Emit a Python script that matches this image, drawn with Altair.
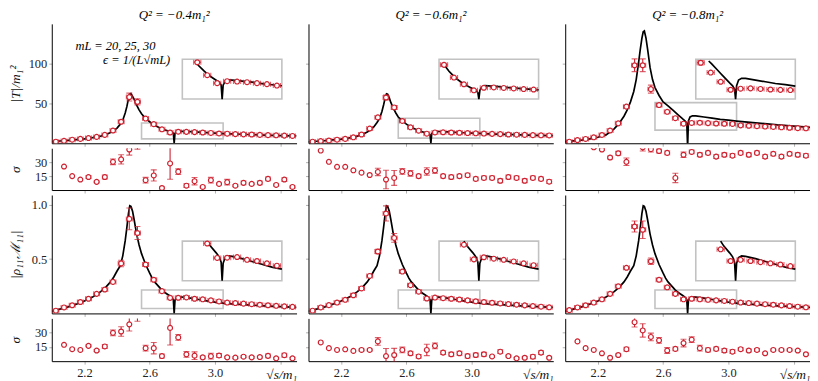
import altair as alt
import pandas as pd

FONT = "Liberation Serif"
RED = "#cf2230"
BOXC = "#c2c2c2"
TICKC = "#b0b0b0"

# lattice points (energy positions)
PX = [2.025, 2.075, 2.125, 2.175, 2.225, 2.275, 2.325, 2.375, 2.425, 2.475,
      2.525, 2.575, 2.625, 2.675, 2.725, 2.775, 2.825, 2.875, 2.925, 2.975,
      3.025, 3.075, 3.125, 3.175, 3.225, 3.275, 3.325, 3.375, 3.425, 3.475]
SX = PX[1:]

# |T|/m^2 points
T04 = [2, 3, 4.5, 5.5, 6.5, 8, 10.5, 16, 27, 58, 52, 31, 24, 17.5, 13.5, 14.5, 14.3, 14, 13.5, 13,
       12.3, 12, 11.5, 11.2, 11, 10.5, 10.2, 10, 9.6, 9.2]
T04_ERR = [0, 0, 0, 0, 0, 0, 0, 0, 1.5, 5, 4, 1, 0, 0, 0, 0, 0, 0, 0, 0, 0, 0, 0, 0, 0, 0, 0, 0, 0, 0]
T06 = [2, 2.8, 3.5, 4.5, 5.5, 7.5, 11, 18.5, 32.5, 57.5, 45, 28, 20, 15.8, 12, 13.6, 13.8, 13.5, 13.2, 12.8,
       12.5, 12.2, 11.8, 11.5, 11, 10.8, 10.5, 10.2, 10, 9.8]
T06_ERR = [0, 0, 0, 0, 0, 0, 0, 0, 1.5, 3, 2.5, 1, 0, 0, 0, 0, 0, 0, 0, 0, 0, 0, 0, 0, 0, 0, 0, 0, 0, 0]
T08 = [2, 4, 5.4, 7.5, 10.4, 16, 25, 46, 98, 98, 68, 48, 39.5, 31.5, 24.6, 25.5, 25.8, 25.3, 24.8, 24.5,
       24.3, 22.5, 22, 21.5, 21, 20.5, 20, 19.5, 19, 18.8]
T08_ERR = [0, 0, 0, 0, 0, 0, 0, 1.5, 8, 8, 5, 2, 0, 0, 0, 0, 0, 0, 0, 0, 0, 0, 0, 0, 0, 0, 0, 0, 0, 0]

# |rho M| points
R04 = [0.025, 0.055, 0.075, 0.105, 0.135, 0.18, 0.22, 0.29, 0.46, 0.87, 0.74, 0.45, 0.31, 0.205, 0.143,
       0.144, 0.147, 0.135, 0.13, 0.12, 0.11, 0.1, 0.095, 0.09, 0.085, 0.08, 0.075, 0.07, 0.065, 0.06]
R04_ERR = [0, 0, 0, 0, 0, 0, 0, 0, 0.03, 0.1, 0.06, 0.015, 0, 0, 0, 0, 0, 0, 0, 0, 0, 0, 0, 0, 0, 0, 0, 0, 0, 0]
R06 = [0.025, 0.055, 0.076, 0.1, 0.125, 0.167, 0.23, 0.345, 0.57, 0.92, 0.695, 0.385, 0.26, 0.2, 0.137,
       0.146, 0.14, 0.135, 0.128, 0.12, 0.112, 0.105, 0.098, 0.092, 0.086, 0.08, 0.074, 0.068, 0.062, 0.056]
R06_ERR = [0, 0, 0, 0, 0, 0, 0, 0, 0.02, 0.07, 0.04, 0.01, 0, 0, 0, 0, 0, 0, 0, 0, 0, 0, 0, 0, 0, 0, 0, 0, 0, 0]
R08 = [0.03, 0.055, 0.075, 0.1, 0.13, 0.18, 0.25, 0.42, 0.80, 0.77, 0.48, 0.31, 0.24, 0.18, 0.13,
       0.135, 0.13, 0.125, 0.12, 0.115, 0.108, 0.1, 0.095, 0.09, 0.085, 0.08, 0.074, 0.068, 0.062, 0.056]
R08_ERR = [0, 0, 0, 0, 0, 0, 0, 0, 0.05, 0.08, 0.03, 0.01, 0, 0, 0, 0, 0, 0, 0, 0, 0, 0, 0, 0, 0, 0, 0, 0, 0, 0]

# sigma rows
SA04 = [25.3, 15, 11.3, 14, 8.8, 14, 30.4, 33, 43.6, 52, 10.6, 15.7, 2.2, 28.6, 19.8, 4.7, 9.5, 3.3, 10.6, 6.6,
        8.5, 4.7, 7.7, 6.6, 7.7, 12, 5.5, 11.3, 3.3]
SA04_ERR = [0, 0, 0, 1.5, 1, 2, 3, 5, 6, 8, 3, 6, 1, 17, 3, 2, 4, 1, 3, 1, 3, 1, 2, 1, 2, 2, 1, 2, 1]
SA06 = [42.5, 30.4, 25, 25, 21.2, 18.7, 16.2, 19.5, 11.3, 13, 20, 18, 15, 20, 21, 15, 14, 15, 16, 12,
        13, 13, 10, 14, 13, 10, 13, 12, 9]
SA06_ERR = [0, 0, 0, 0, 0, 0, 0, 4, 10, 8, 3, 3, 2, 4, 3, 2, 2, 2, 2, 2, 2, 2, 2, 2, 2, 2, 2, 2, 2]
SA08 = [55, 50, 46, 43.6, 35, 39.6, 30.4, 52, 46, 44, 42, 40, 13, 38, 41, 38, 40, 36, 38, 37,
        40, 38, 40, 36, 39, 36, 39, 38, 37]
SA08_ERR = [0, 0, 1, 1, 1.5, 2, 4, 6, 4, 3, 2, 2, 5, 3, 2, 2, 2, 2, 2, 2, 2, 2, 2, 2, 2, 2, 2, 2, 2]
SB04 = [17.2, 12.6, 11.8, 16.1, 11.2, 15.5, 29.8, 31.2, 38.7, 50, 13.7, 13.7, 5.4, 35, 25, 7.2, 5.8, 4, 5.3, 6,
        4, 3.7, 4.7, 4, 4.3, 5.6, 3, 6.3, 3]
SB04_ERR = [0, 0, 0, 1, 1, 2, 3, 5, 7, 8, 3, 6, 2, 18, 3, 3, 4, 1.5, 3, 2, 1, 1, 1, 1, 1, 2, 1, 2, 1]
SB06 = [19.7, 13.7, 11.8, 12.5, 10.8, 11.8, 11.8, 20.8, 5.4, 6.5, 11.8, 8.3, 5, 11.8, 16.1, 9, 7.3, 8.3, 5.4, 6.5,
        7.3, 5, 10, 5.4, 3, 3.6, 4.7, 9, 3.6]
SB06_ERR = [0, 0, 0, 0, 0, 1, 1, 4, 8, 7, 3, 2, 2, 6, 3, 2, 2, 2, 2, 2, 2, 1, 2, 1, 1, 1, 2, 2, 1]
SB08 = [20.8, 13.7, 11.8, 8.3, 3.6, 6.5, 12.6, 41, 32.3, 25.5, 21.9, 11.2, 12.9, 19, 22.6, 13.7, 11.8, 12.9, 11.2, 10,
        12.6, 11.2, 11.8, 8.3, 11.8, 11.8, 11.8, 11.2, 7.3]
SB08_ERR = [0, 0, 0, 0, 0, 1, 2, 5, 7, 4, 3, 3, 2, 4, 3, 3, 2, 2, 2, 2, 1.5, 1.5, 1.5, 1, 1, 1, 1, 1, 1]

# theory curves
CX = [2.00, 2.05, 2.10, 2.15, 2.20, 2.25, 2.30, 2.33, 2.36, 2.38,
      2.40, 2.42, 2.435, 2.45, 2.46, 2.47, 2.478, 2.485, 2.495, 2.505,
      2.52, 2.535, 2.55, 2.575, 2.60, 2.615, 2.63, 2.66, 2.675, 2.69,
      2.72, 2.735, 2.745, 2.75, 2.755, 2.765, 2.78, 2.80, 2.85, 2.90,
      2.95, 3.00, 3.05, 3.10, 3.20, 3.30, 3.40, 3.50]
CR = [0.02, 0.04, 0.06, 0.085, 0.115, 0.15, 0.20, 0.24, 0.29, 0.335,
      0.39, 0.44, 0.53, 0.67, 0.79, 0.92, 0.99, 0.985, 0.94, 0.86,
      0.73, 0.63, 0.55, 0.45, 0.37, 0.325, 0.29, 0.24, 0.215, 0.195,
      0.165, 0.148, 0.125, 0.0, 0.12, 0.145, 0.152, 0.15, 0.14, 0.128,
      0.116, 0.104, 0.095, 0.088, 0.078, 0.07, 0.062, 0.055]
CT04 = [2, 2.8, 3.6, 4.5, 5.6, 7, 9, 10.8, 13.5, 16,
        19, 24, 29, 38, 46, 56, 62, 62.5, 59, 55,
        48, 42, 37, 31, 27, 24.7, 22.5, 19.5, 18.2, 17,
        15, 14, 12.5, 0, 12.5, 14.5, 15.2, 15, 14.5, 14,
        13.3, 12.7, 12.2, 11.8, 11, 10.3, 9.7, 9.2]
CT06 = [1.8, 2.5, 3.2, 4.2, 5.3, 6.8, 9, 11, 14, 17,
        20.5, 26, 31, 40, 48, 57, 62, 61.5, 57, 51,
        44, 38, 33, 28, 24, 22, 20, 17.2, 16, 14.8,
        13, 12.2, 10.5, 0, 12, 14, 14.9, 14.8, 14.3, 13.7,
        13.2, 12.7, 12.3, 11.9, 11.2, 10.6, 10, 9.6]
CT08 = [2, 3, 4, 5.5, 7.5, 10.5, 18, 25, 34, 42,
        52, 65, 80, 102, 118, 132, 140, 141, 132, 118,
        95, 80, 70, 60, 52, 49.5, 47, 41.5, 38.7, 36,
        30.5, 28, 25, -5, 28, 33, 34.5, 34.5, 33, 31.5,
        30, 29, 27.8, 26.8, 25, 23, 21.5, 20]

TITLES = ["Q² = −0.4m₁²", "Q² = −0.6m₁²", "Q² = −0.8m₁²"]
ANNOT_TEXT = ["mL = 20, 25, 30", "ϵ = 1/(L√mL)"]
ANNOT_X = [2.39, 2.52]
ANNOT_Y = [122, 105]

XDOM = [2.0, 3.5]
XT = [2.2, 2.6, 3.0, 3.4]
XE = 0.018

ZOOM_X = [2.55, 3.05]
BOX_X = [2.80, 3.41]
ZOOM_Y_T = [[5.5, 25.5], [6.5, 31.5], [16.5, 51.0]]
BOX_Y_T = [55.5, 105.5]
ZOOM_Y_R = [0.045, 0.215]
BOX_Y_R = [0.30, 0.665]

W = 246
HEIGHTS = [120, 42, 119, 43]


def xaxis(bottom):
    if bottom:
        return alt.Axis(values=XT, labelExpr="datum.value > 3.3 ? '' : format(datum.value, '.1f')",
                        tickSize=3, grid=False, title="√s/m₁", titleX=W, titleY=13,
                        titleAlign="right", titleBaseline="middle", titleFontStyle="italic",
                        titleFontSize=13.5, labelFontSize=12.5, labelPadding=2)
    return alt.Axis(values=XT, labels=False, tickSize=3, grid=False, title=None)


def yaxis(vals, fmt, title):
    if title is None:
        return alt.Axis(values=vals, labels=False, tickSize=3, grid=False, title=None)
    return alt.Axis(values=vals, format=fmt, tickSize=3, grid=False, title=title,
                    titleX=-36, titleBaseline="middle", titleFontStyle="italic",
                    labelFontSize=12.5, labelPadding=2)


def point_layers(df, calc, filt, X, Y, hbar, cap):
    base = alt.Chart(df).transform_calculate(**calc)
    if filt:
        base = base.transform_filter(filt)
    out = []
    if hbar:
        out.append(base.mark_rule(color=RED, strokeWidth=1.1, clip=True).encode(
            x=X("xl"), x2=alt.X2("xh"), y=Y("yy")))
        out.append(base.mark_tick(orient="vertical", size=cap, thickness=1.1, color=RED, clip=True).encode(
            x=X("xl"), y=Y("yy")))
        out.append(base.mark_tick(orient="vertical", size=cap, thickness=1.1, color=RED, clip=True).encode(
            x=X("xh"), y=Y("yy")))
    ve = base.transform_filter("datum.e > 0")
    out.append(ve.mark_rule(color=RED, strokeWidth=1.1, clip=True).encode(
        x=X("xx"), y=Y("yl"), y2=alt.Y2("yh")))
    out.append(ve.mark_tick(orient="horizontal", size=cap + 1, thickness=1.1, color=RED, clip=True).encode(
        x=X("xx"), y=Y("yl")))
    out.append(ve.mark_tick(orient="horizontal", size=cap + 1, thickness=1.1, color=RED, clip=True).encode(
        x=X("xx"), y=Y("yh")))
    out.append(base.mark_point(shape="circle", filled=True, fill="white", stroke=RED, strokeWidth=1.2,
                               size=24, opacity=1, clip=True).encode(x=X("xx"), y=Y("yy")))
    return out


def panel(px, vals, errs, ydom, yt, yfmt, ytitle, height, hbar, curve=None, zoom=None,
          title=None, bottom=False, annotate=False):
    xs = alt.Scale(domain=XDOM, nice=False, zero=False)
    ys = alt.Scale(domain=ydom, nice=False, zero=False)
    xax = xaxis(bottom)
    yax = yaxis(yt, yfmt, ytitle)

    def X(f):
        return alt.X(f, type="quantitative", scale=xs, axis=xax)

    def Y(f):
        return alt.Y(f, type="quantitative", scale=ys, axis=yax)

    df = pd.DataFrame({"x": px, "y": vals, "e": errs})
    layers = []
    if zoom is not None:
        zx, zy, bx, by = zoom
        rects = pd.DataFrame({"a": [zx[0], bx[0]], "b": [zx[1], bx[1]],
                              "c": [zy[0], by[0]], "d": [zy[1], by[1]]})
        layers.append(alt.Chart(rects).mark_rect(fillOpacity=0, stroke=BOXC, strokeWidth=1.6).encode(
            x=X("a"), x2=alt.X2("b"), y=Y("c"), y2=alt.Y2("d")))
    if curve is not None:
        cdf = pd.DataFrame({"x": CX, "y": curve})
        layers.append(alt.Chart(cdf).transform_calculate(cx="datum.x", cy="datum.y")
                      .mark_line(color="black", strokeWidth=1.7, clip=True)
                      .encode(x=X("cx"), y=Y("cy")))
    main_calc = dict(xx="datum.x", xl=f"datum.x - {XE}", xh=f"datum.x + {XE}",
                     yy="datum.y", yl="datum.y - datum.e", yh="datum.y + datum.e")
    if zoom is not None:
        kx = (bx[1] - bx[0]) / (zx[1] - zx[0])
        ky = (by[1] - by[0]) / (zy[1] - zy[0])
        fx = f"({bx[0]} + (datum.x - {zx[0]}) * {kx})"

        def fy(e):
            return f"({by[0]} + (({e}) - {zy[0]}) * {ky})"
        if curve is not None:
            layers.append(alt.Chart(cdf).transform_calculate(cx=fx, cy=f"max({by[0]}, {fy('datum.y')})")
                          .transform_filter(f"datum.x >= {zx[0]} && datum.x <= {zx[1]} && datum.y <= {zy[1]}")
                          .mark_line(color="black", strokeWidth=1.7)
                          .encode(x=X("cx"), y=Y("cy")))
    layers += point_layers(df, main_calc, None, X, Y, hbar, 5)
    if zoom is not None:
        in_calc = dict(xx=fx, xl=f"{fx} - {XE * kx}", xh=f"{fx} + {XE * kx}",
                       yy=fy("datum.y"), yl=fy("datum.y - datum.e"), yh=fy("datum.y + datum.e"))
        filt = f"datum.x >= {zx[0]} && datum.x <= {zx[1]} && datum.y >= {zy[0]} && datum.y <= {zy[1]}"
        layers += point_layers(df, in_calc, filt, X, Y, hbar, 5)
    if annotate:
        adf = pd.DataFrame({"x": ANNOT_X, "y": ANNOT_Y, "t": ANNOT_TEXT})
        layers.append(alt.Chart(adf).mark_text(font=FONT, fontStyle="italic", fontSize=12.5,
                                               align="center", baseline="middle", color="black")
                      .encode(x=X("x"), y=Y("y"), text="t:N"))
    ch = alt.layer(*layers).properties(width=W, height=height)
    if title is not None:
        ch = ch.properties(title=alt.TitleParams(text=title, font=FONT, fontSize=13, fontStyle="italic",
                                                 fontWeight="normal", offset=2))
    return ch


T_SETS = [(T04, T04_ERR, CT04), (T06, T06_ERR, CT06), (T08, T08_ERR, CT08)]
R_SETS = [(R04, R04_ERR), (R06, R06_ERR), (R08, R08_ERR)]
SA_SETS = [(SA04, SA04_ERR), (SA06, SA06_ERR), (SA08, SA08_ERR)]
SB_SETS = [(SB04, SB04_ERR), (SB06, SB06_ERR), (SB08, SB08_ERR)]

panels = []
for c in range(3):
    v, e, cv = T_SETS[c]
    panels.append(panel(PX, v, e, [0, 150], [50, 100], "d", "|T|/m₁²" if c == 0 else None, HEIGHTS[0],
                        True, curve=cv, zoom=(ZOOM_X, ZOOM_Y_T[c], BOX_X, BOX_Y_T),
                        title=TITLES[c], annotate=(c == 0)))
for c in range(3):
    v, e = SA_SETS[c]
    panels.append(panel(SX, v, e, [0, 45], [15, 30], "d", "σ" if c == 0 else None, HEIGHTS[1], False))
for c in range(3):
    v, e = R_SETS[c]
    panels.append(panel(PX, v, e, [0, 1.09], [0.5, 1.0], ".1f", "|ρ₁₁ℳ₁₁|" if c == 0 else None, HEIGHTS[2],
                        True, curve=CR, zoom=(ZOOM_X, ZOOM_Y_R, BOX_X, BOX_Y_R)))
for c in range(3):
    v, e = SB_SETS[c]
    panels.append(panel(SX, v, e, [0, 45], [15, 30], "d", "σ" if c == 0 else None, HEIGHTS[3], False,
                        bottom=True))

chart = alt.ConcatChart(concat=panels, columns=3, align="each",
                        spacing={"row": 1, "column": 8}, padding=0)
chart = chart.configure_view(stroke=None).configure_axis(
    labelFont=FONT, titleFont=FONT, labelFontSize=12.5, titleFontSize=13.5, titleFontWeight="normal",
    labelColor="#222222", titleColor="#111111", tickColor=TICKC, tickWidth=1,
    domainColor="black", domainWidth=1)

chart.save("out.html", embed_options={"renderer": "svg", "actions": False})
